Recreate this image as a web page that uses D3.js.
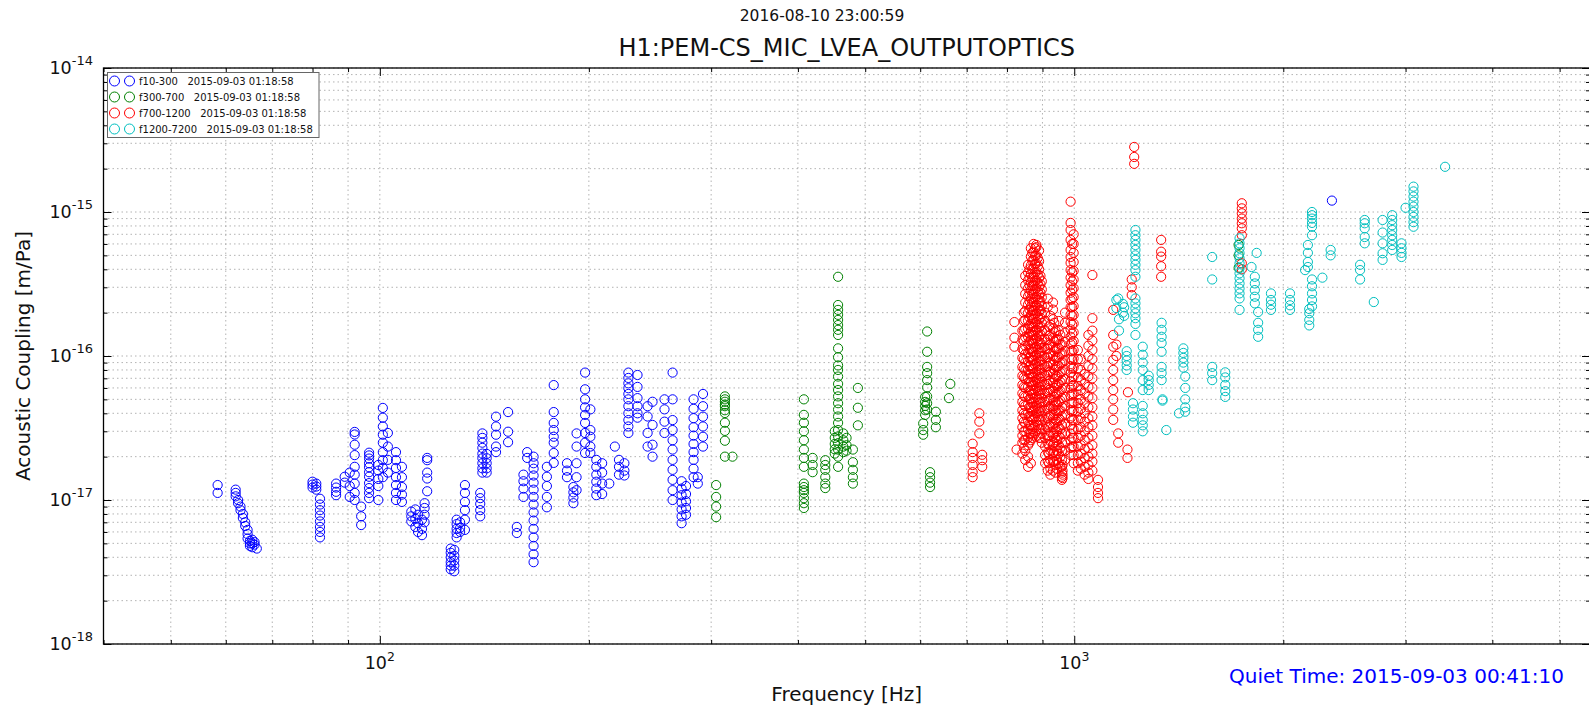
<!DOCTYPE html>
<html>
<head>
<meta charset="utf-8">
<script src="https://cdn.jsdelivr.net/npm/d3@7"></script>
<style>
  body { margin: 0; background: #fff; }
  text { font-family: "DejaVu Sans", sans-serif; fill: #111; }
</style>
</head>
<body>
<div id="chart"></div>
<script>
// Each column: [frequency in Hz, [acoustic coupling in units of 1e-18 m/Pa]]
const band10_300 = [
  [58.4, [12.7, 11.2]],
  [62, [11.8, 11.2, 10.6]], [62.5, [10.0, 9.5]], [63, [9.0, 8.5]], [63.5, [8.0, 7.5]],
  [64, [7.0, 6.6]], [64.5, [6.2, 5.8, 5.4]], [65, [5.2, 5.0, 4.8]], [65.5, [5.3, 5.0, 4.7]],
  [66, [5.1, 4.9]], [66.5, [4.6]],
  [80, [13.4, 12.8, 12.2]], [81, [13.0, 12.4, 11.8]],
  [82, [10.2, 9.3, 8.5, 7.8, 7.1, 6.5, 6.0, 5.5]],
  [86.5, [13.0, 12.2, 11.4, 10.8]], [89, [14.5, 13.2]], [90.5, [15.5, 12.5, 10.5]],
  [92, [29.7, 28.5, 24.2, 20.5, 17, 15, 13, 11.2, 10]],
  [94, [9.0, 7.7, 6.7]],
  [96.5, [21.3, 20.4, 19.4, 18, 16.9, 15.6, 14.5, 13.1, 12.1, 11.2, 10.3]],
  [99.5, [17.5, 16, 14, 12.5, 10]],
  [101, [43.6, 37.3, 32.4, 28.4, 25, 21.5, 18.9, 16.7, 14.4]],
  [102.7, [29.2, 23.5, 19, 15.5]],
  [105.5, [21.5, 18.9, 16.7, 14.4, 12.7, 11.2, 10]],
  [107.6, [17, 14.4, 12.3, 10.9, 9.7]],
  [111, [8.3, 7.7, 7.1]], [112.5, [8.6, 7.4, 6.5]], [113.5, [7.9, 6.9, 6.0]],
  [115, [7.3, 6.3, 5.7]], [116, [9.5, 8.8, 7.9, 7.0]],
  [117, [19.6, 18.9, 15.5, 14.1, 11.5]],
  [126.5, [4.6, 4.3, 4.0, 3.7, 3.5, 3.3]], [128, [4.5, 4.1, 3.8, 3.5, 3.2]],
  [129, [7.3, 6.8, 6.3, 5.9, 5.5]], [130.5, [7.0, 6.4, 6.0]],
  [132.6, [12.7, 11.2, 9.7, 8.5, 7.3, 6.2]],
  [139.5, [11.2, 10.3, 9.4, 8.5, 7.7]],
  [140.5, [29, 27, 25, 23, 21, 19.5, 18, 16.6, 15.5]],
  [142.5, [20.9, 19.5, 18, 16.6, 15.5]],
  [147, [37.9, 32.4, 28.4, 23.5, 21.5]],
  [153, [40.8, 29.8, 25.2]],
  [157.5, [6.5, 5.9]],
  [161, [15, 13.5, 12, 10.5]], [163, [21.5, 19.6]],
  [166.5, [20, 18, 16.5, 14.8, 13.2, 11.8, 10.5, 9.3, 8.2, 7.2, 6.3, 5.5, 4.8, 4.2, 3.7]],
  [174, [17, 14.5, 12.5, 10.5, 8.9]],
  [178, [62.8, 40.8, 34.3, 30.6, 27.5, 25, 21.2, 18.1]],
  [186, [18, 16, 14.4]], [190, [12.3, 11.3, 10.4, 9.5]],
  [192, [29, 23.5, 18, 14.4, 11.7]],
  [197.5, [76.7, 58.7, 50, 44, 39, 34.3, 29.2, 25, 21.2]],
  [201, [42.6, 30.6, 27.5, 23.5, 21.2]],
  [205, [19, 17, 15, 13.4, 12, 10.8]], [209, [18, 15.5, 13, 11]],
  [214, [13]], [218, [23.5]], [221, [19, 17, 15]], [225, [18, 16, 14.8]],
  [228, [76.7, 70.4, 64.6, 59.7, 54.5, 50, 44.8, 40, 35.9, 32.4, 29.2]],
  [235, [73.8, 61, 51, 44.8, 40, 37.3]],
  [243, [44.8, 38, 29.2, 23.5]], [247, [48.1, 33.2, 24.2, 20]],
  [257, [50, 42.6, 35, 29.2]],
  [264, [76.7, 50, 35.9, 30.6, 26, 22.4, 19, 16.2, 13.8, 11.7, 10]],
  [272, [13.5, 12, 10.8, 9.6, 8.6, 7.7, 6.9]], [276, [12.5, 11, 9.8, 8.8, 7.9]],
  [283, [50, 43, 37, 32, 28, 24.5, 21.5, 19, 16.5, 14.4]],
  [287, [14.4, 13]],
  [292, [54.5, 44.8, 37.9, 32.4, 27.5, 23.5]],
  [2350, [1200]]
];

const band300_700 = [
  [305, [12.7, 10.5, 9.0, 7.6]],
  [314, [52.4, 50, 48.1, 46, 44.8, 42, 40.2, 34.4, 30.2, 25.8, 20]],
  [322, [20]],
  [408, [50, 39, 34.4, 30, 26, 22.4, 19.6, 17, 13.0, 12.3, 11.7, 11.2, 10.3, 9.5, 8.8]],
  [420, [19.6, 17.5, 15.6]],
  [438, [18.9, 17.5, 16.2, 14.4, 13, 12.1]],
  [452, [30, 27, 24.5, 22.5, 21]],
  [457, [355, 226, 209, 193, 178, 164, 152, 140, 113, 98, 86, 80, 72, 64, 58, 52.4, 47, 42.5, 38, 34.3, 30.6, 27.6, 24.8, 22.4, 20, 17]],
  [465, [29, 26, 23.5, 21.5]], [470, [27, 24, 22]],
  [480, [22.4, 18.3, 16.2, 14.4, 13]],
  [488, [60, 43.7, 33]],
  [606, [34, 30.6, 28.4]], [610, [52, 48, 45, 42, 39]],
  [614, [148, 107, 84, 76, 68, 60.5, 52.4, 47, 42.5]],
  [620, [15.6, 14.4, 13.2, 12.3]],
  [632, [41, 36, 32]], [660, [51]], [663, [64]],
  [1725, [590, 500, 410]]
];

const band700_1200 = [
  [714, [24.6, 21.5, 19.6, 17.5, 15.6, 14.4]],
  [730, [40, 35, 29]], [737, [20.6, 18.9, 17]],
  [820, [172, 134, 116]], [826, [22.4]],
  [842, [150, 130, 112, 97, 84, 73, 63, 55, 48, 42, 37, 32, 28, 25, 21]],
  [846, [200, 175, 150, 128, 110, 95, 82, 71, 61, 53, 46, 40, 35, 30, 26, 23]],
  [850, [360, 310, 270, 235, 205, 178, 155, 135, 118, 103, 90, 79, 69, 60, 52, 45, 39, 34, 30, 26, 22, 19]],
  [858, [430, 380, 335, 295, 260, 228, 200, 176, 155, 136, 120, 105, 92, 80, 70, 61, 53, 46, 40, 35, 31, 27, 24, 20, 17]],
  [862, [400, 350, 310, 272, 240, 210, 185, 163, 143, 126, 111, 97, 85, 75, 66, 57, 50, 44, 38, 33, 29, 25]],
  [866, [560, 490, 425, 370, 325, 285, 250, 220, 192, 168, 147, 129, 113, 99, 86, 75, 66, 58, 51, 44, 38, 33, 29, 26, 18]],
  [870, [520, 460, 400, 350, 306, 268, 235, 206, 180, 158, 139, 122, 107, 93, 81, 71, 62, 54, 47, 41, 36, 31, 27]],
  [874, [600, 530, 465, 405, 355, 310, 272, 238, 208, 182, 160, 140, 122, 107, 94, 82, 72, 63, 55, 48, 42, 37, 32, 28]],
  [878, [560, 495, 435, 380, 332, 290, 254, 222, 195, 170, 149, 130, 114, 100, 87, 76, 66, 58, 51, 44, 38, 33, 29]],
  [882, [590, 570, 500, 440, 385, 335, 295, 258, 226, 198, 173, 152, 133, 116, 102, 89, 78, 68, 60, 52, 45, 40, 35, 30]],
  [886, [480, 420, 368, 322, 282, 247, 216, 189, 166, 145, 127, 111, 97, 85, 74, 65, 57, 50, 43, 38, 33, 28]],
  [890, [540, 455, 400, 350, 305, 268, 234, 205, 180, 157, 138, 120, 105, 92, 80, 70, 61, 54, 47, 41, 36, 31, 27]],
  [894, [360, 315, 275, 240, 210, 184, 161, 141, 123, 108, 94, 82, 72, 63, 55, 48, 42, 36, 31, 27]],
  [898, [330, 290, 255, 223, 195, 170, 149, 130, 114, 100, 87, 76, 66, 58, 51, 44, 38, 33, 29, 25]],
  [908, [200, 175, 150, 130, 112, 97, 84, 73, 63, 55, 48, 42, 36, 31, 27, 23.5, 20.5, 18]],
  [916, [250, 220, 130, 112, 98, 85, 74, 64, 56, 49, 43, 37, 32, 28, 24.5, 21.5, 18.5, 16]],
  [920, [160, 138, 119, 103, 89, 77, 67, 58, 50, 44, 38, 33, 28, 24, 21, 18]],
  [924, [190, 165, 140, 120, 104, 90, 78, 68, 59, 51, 45, 39, 34, 29.5, 25.5, 22, 19, 16.5, 15]],
  [932, [235, 210, 180, 155, 133, 115, 100, 87, 75, 65, 57, 49, 43, 37, 32, 28, 24, 21, 18.5, 16]],
  [936, [170, 146, 126, 108, 93, 80, 69, 60, 52, 45, 39, 34, 29, 25, 21.5, 18.5]],
  [940, [150, 130, 112, 97, 84, 73, 63, 55, 48, 42, 36, 31, 27, 23.5, 20.5, 17.5, 15.5]],
  [945, [130, 112, 97, 84, 72, 62, 54, 46, 40, 35, 30, 26, 22, 19, 16.5]],
  [950, [175, 150, 130, 113, 98, 85, 74, 64, 56, 48, 42, 37, 32, 28, 24, 21, 18]],
  [955, [140, 120, 103, 89, 77, 66, 57, 49, 42, 36, 31, 27, 23, 20, 17]],
  [960, [120, 104, 90, 78, 68, 59, 51, 44, 38, 33, 29, 25, 22, 19, 17, 15.5, 14.5, 13.8]],
  [962, [17.5, 16, 15, 14.2]],
  [970, [200, 170, 145, 125, 108, 93, 80, 69, 60, 52, 45, 39, 34, 29, 25, 22, 19]],
  [988, [1180, 840, 750, 640, 545, 487, 443, 395, 350, 310, 275, 245, 218, 194, 172, 153, 136, 121, 108, 96, 85, 76, 67, 60, 53, 47, 42, 37, 33, 29, 26, 23, 20.5]],
  [993, [600, 380, 330, 288, 250, 218, 190, 165, 143, 124, 108, 94, 82, 71, 62, 54, 47, 41, 36, 31, 27, 23.5]],
  [998, [700, 600, 520, 450, 390, 340, 295, 256, 222, 193, 168, 146, 127, 110, 96, 83, 72, 63, 55, 48, 42, 36, 31, 27, 23.5, 20.5, 18]],
  [1012, [110, 95, 82, 71, 62, 54, 47, 41, 36, 31, 27, 23.5, 20.5, 18, 16]],
  [1022, [95, 80, 68, 58, 50, 43, 37, 32, 28, 24, 21, 18.5, 16.5]],
  [1035, [75, 64, 55, 47, 40, 35, 30, 26, 22.5, 19.5, 17, 15]],
  [1048, [140, 118, 100, 85, 72, 61, 52, 44, 37, 32, 27, 23, 20, 17.5, 15.5, 14]],
  [1062, [365, 183, 150, 128, 110, 95, 82, 70, 60, 51, 44, 38, 33, 28, 24, 21, 18.5, 16]],
  [1082, [13.8, 12.3, 11.2, 10.3]],
  [1138, [209, 140, 116, 94, 80, 68, 58, 50, 42.5, 36]],
  [1150, [120, 100]], [1157, [29, 25]], [1193, [22.4, 19.6]], [1195, [56]],
  [1210, [340, 300, 265]],
  [1220, [2830, 2410, 2160]],
  [1334, [640, 530, 490, 420, 355]],
  [1743, [1150, 1060, 980, 900, 835, 770, 690, 440, 400]]
];

const band1200_7200 = [
  [1150, [245, 215]], [1157, [251]], [1160, [180, 150]], [1175, [230, 200]], [1180, [218, 190]],
  [1190, [108, 100, 93, 86, 80]],
  [1215, [47, 42.5, 38, 34.4]],
  [1225, [750, 690, 640, 590, 545, 500, 465, 430, 395, 355, 251, 232, 214, 198, 183, 167, 140]],
  [1255, [116, 102, 90, 80, 68, 58, 45, 40, 36, 33, 30]],
  [1280, [73, 68, 63, 58]],
  [1336, [170, 152, 136, 123, 107, 84, 76, 68]],
  [1340, [50, 49]], [1357, [30.6]], [1415, [40]],
  [1436, [113, 105, 97, 90, 83]],
  [1445, [72, 60, 50, 44, 41]],
  [1580, [487, 340, 84, 76, 68]],
  [1650, [77, 71, 63, 57, 52]],
  [1730, [657, 606, 560, 517, 477, 440, 406, 375, 346, 319, 294, 272, 251, 209]],
  [1800, [415]], [1820, [355, 319, 287, 258, 232]], [1831, [520]],
  [1840, [202, 170, 152, 136]],
  [1920, [272, 245, 227, 209]], [2045, [272, 245, 225, 209]],
  [2150, [395]], [2170, [590, 520, 450, 415]], [2180, [212, 198, 178, 163]],
  [2200, [1000, 950, 900, 840, 790, 690, 340, 305, 272, 245, 221]],
  [2277, [350]], [2340, [545, 500]], [2580, [430, 395, 340]],
  [2620, [880, 835, 770, 670, 606]], [2700, [237]],
  [2780, [880, 720, 606, 517, 465]],
  [2870, [950, 880, 810, 750, 690, 640, 590, 545]],
  [2960, [606, 560, 520, 487]], [3000, [1070]],
  [3080, [1500, 1390, 1280, 1180, 1090, 1000, 925, 850, 790]],
  [3420, [2060]]
];

const seriesNames = ["f10-300", "f300-700", "f700-1200", "f1200-7200"];
const seriesColors = ["#0000ff", "#008000", "#ff0000", "#00bfbf"];
const injectionTime = "2015-09-03 01:18:58";
const quietTime = "Quiet Time: 2015-09-03 00:41:10";
const plotTitle = "H1:PEM-CS_MIC_LVEA_OUTPUTOPTICS";
const runStamp = "2016-08-10 23:00:59";
const xDomain = [40, 5530];
const yDomain = [1e-18, 1e-14];

const width = 1589, height = 705;
const plot = { left: 103.5, right: 1590, top: 68, bottom: 644 };

const svg = d3.select("#chart").append("svg").attr("width", width).attr("height", height);
svg.append("rect").attr("width", width).attr("height", height).attr("fill", "#fff");

const x = d3.scaleLog().domain(xDomain).range([plot.left, plot.right]);
const y = d3.scaleLog().domain(yDomain).range([plot.bottom, plot.top]);

const isDecade = (v) => Math.abs(Math.log10(v) - Math.round(Math.log10(v))) < 1e-6;
const xt = x.ticks();
const yt = y.ticks();

// dotted grid at every major and minor tick
const grid = svg.append("g")
  .attr("stroke", "#a0a0a0").attr("stroke-width", 0.8).attr("stroke-dasharray", "1.5,3");
grid.selectAll(".gx").data(xt).join("line").attr("class", "gx")
  .attr("x1", (d) => x(d)).attr("x2", (d) => x(d))
  .attr("y1", plot.top).attr("y2", plot.bottom);
grid.selectAll(".gy").data(yt).join("line").attr("class", "gy")
  .attr("x1", plot.left).attr("x2", plot.right)
  .attr("y1", (d) => y(d)).attr("y2", (d) => y(d));

// inward ticks on all four sides
const tickLen = (d) => (isDecade(d) ? 8 : 4);
function styleAxis(g) {
  g.select(".domain").remove();
  g.selectAll(".tick text").remove();
  g.selectAll(".tick line").attr("stroke", "#000").attr("stroke-width", 1);
}
svg.append("g").attr("transform", `translate(0,${plot.bottom})`)
  .call(d3.axisBottom(x).tickValues(xt).tickFormat(""))
  .call(styleAxis)
  .selectAll(".tick line").attr("y2", (d) => -tickLen(d));
svg.append("g").attr("transform", `translate(0,${plot.top})`)
  .call(d3.axisTop(x).tickValues(xt).tickFormat(""))
  .call(styleAxis)
  .selectAll(".tick line").attr("y2", (d) => tickLen(d));
svg.append("g").attr("transform", `translate(${plot.left},0)`)
  .call(d3.axisLeft(y).tickValues(yt).tickFormat(""))
  .call(styleAxis)
  .selectAll(".tick line").attr("x2", (d) => tickLen(d));
svg.append("g").attr("transform", `translate(${plot.right},0)`)
  .call(d3.axisRight(y).tickValues(yt).tickFormat(""))
  .call(styleAxis)
  .selectAll(".tick line").attr("x2", (d) => -tickLen(d));

// tick labels as 10^n
svg.append("g").attr("font-size", 17.5)
  .selectAll("text").data(xt.filter(isDecade)).join("text")
  .attr("x", (d) => x(d)).attr("y", plot.bottom + 25).attr("text-anchor", "middle")
  .each(function (d) {
    const t = d3.select(this);
    t.append("tspan").text("10");
    t.append("tspan").attr("dy", -8).attr("font-size", 12.5).text(Math.round(Math.log10(d)));
  });
svg.append("g").attr("font-size", 17.5)
  .selectAll("text").data(yt.filter(isDecade)).join("text")
  .attr("x", 93).attr("y", (d) => y(d) + 6).attr("text-anchor", "end")
  .each(function (d) {
    const t = d3.select(this);
    t.append("tspan").text("10");
    t.append("tspan").attr("dy", -9).attr("font-size", 13).text(Math.round(Math.log10(d)));
  });

// frame
svg.append("rect")
  .attr("x", plot.left).attr("y", plot.top)
  .attr("width", plot.right - plot.left).attr("height", plot.bottom - plot.top)
  .attr("fill", "none").attr("stroke", "#000").attr("stroke-width", 1.3);

// data points
const allBands = [band10_300, band300_700, band700_1200, band1200_7200];
allBands.forEach((band, i) => {
  const pts = band.flatMap(([f, vals]) => vals.map((v) => [f, v * 1e-18]));
  svg.append("g")
    .selectAll("circle").data(pts).join("circle")
    .attr("cx", (d) => x(d[0])).attr("cy", (d) => y(d[1])).attr("r", 4.6)
    .attr("fill", "none").attr("stroke", seriesColors[i]).attr("stroke-width", 1);
});

// legend
const legend = svg.append("g");
legend.append("rect").attr("x", 107.5).attr("y", 72.5).attr("width", 211.5).attr("height", 65)
  .attr("fill", "#fff").attr("stroke", "#666").attr("stroke-width", 1);
seriesNames.forEach((name, i) => {
  const ly = 81 + i * 16;
  [114.5, 129.5].forEach((lx) => {
    legend.append("circle").attr("cx", lx).attr("cy", ly).attr("r", 5)
      .attr("fill", "none").attr("stroke", seriesColors[i]).attr("stroke-width", 1);
  });
  legend.append("text").attr("x", 139).attr("y", ly + 3.5).attr("font-size", 10)
    .style("white-space", "pre").text(`${name}   ${injectionTime}`);
});

// titles and labels
svg.append("text").attr("x", 822).attr("y", 21).attr("text-anchor", "middle")
  .attr("font-size", 15.5).text(runStamp);
svg.append("text").attr("x", (plot.left + plot.right) / 2).attr("y", 56).attr("text-anchor", "middle")
  .attr("font-size", 24).text(plotTitle);
svg.append("text").attr("x", (plot.left + plot.right) / 2).attr("y", 701).attr("text-anchor", "middle")
  .attr("font-size", 20).text("Frequency [Hz]");
svg.append("text").attr("transform", "translate(30,356) rotate(-90)").attr("text-anchor", "middle")
  .attr("font-size", 20).text("Acoustic Coupling [m/Pa]");
svg.append("text").attr("x", 1564).attr("y", 683).attr("text-anchor", "end")
  .attr("font-size", 20).style("fill", "#0000ff").text(quietTime);
</script>
</body>
</html>
